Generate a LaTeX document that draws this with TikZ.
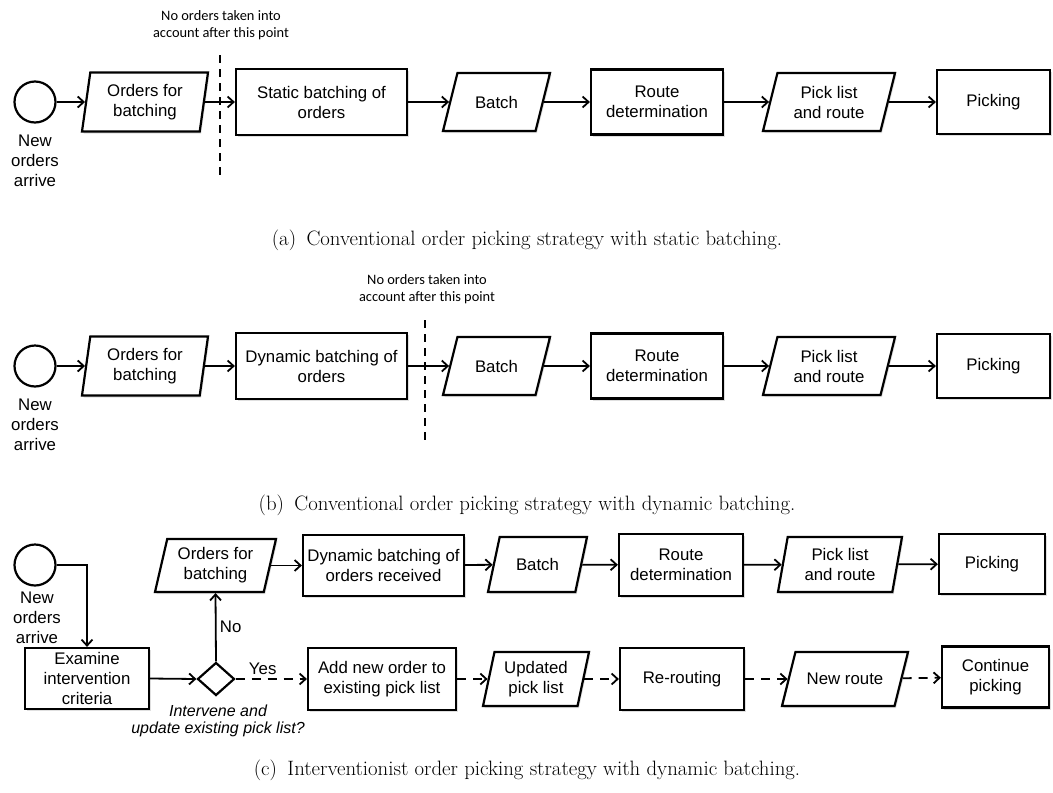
\documentclass[tikz,border=0pt]{standalone}
\usepackage{fontspec}
\newfontfamily\flowfont{Liberation Sans}
\newfontfamily\notefont{Carlito}
\usetikzlibrary{shapes.geometric,arrows.meta,shadows}

\tikzset{
    base/.style={draw, line width=2.2pt, fill=white, align=center,
        font=\flowfont\fontsize{16.8}{20}\selectfont, inner sep=2pt,
        drop shadow={shadow xshift=1.5pt, shadow yshift=-2pt, opacity=.25}},
    process/.style={base, rectangle},
    % parallelogram: #1 is half its height, the text comes as a centred label
    data/.style={base, trapezium, trapezium left angle=76,
        trapezium right angle=104, trapezium stretches body,
        inner xsep=0pt, inner ysep=#1},
    lean/.style={trapezium left angle=#1, trapezium right angle={180-#1}},
    start/.style={draw, circle, line width=2.2pt, minimum size=41pt, inner sep=0pt},
    decision/.style={draw, diamond, line width=2.2pt, fill=white,
        minimum width=37pt, minimum height=33pt, inner sep=0pt},
    plain/.style={align=center, font=\flowfont\fontsize{16.8}{20}\selectfont},
    note/.style={align=center, font=\notefont\fontsize{14.4}{17}\selectfont},
    caption/.style={font=\fontsize{20.8}{24}\selectfont},
    flow/.style={line width=1.8pt, -{Straight Barb[length=6pt,width=11pt]}},
    option/.style={flow, dash pattern=on 9pt off 7pt},
    cut/.style={line width=2pt, dash pattern=on 8pt off 6pt}
}

\begin{document}
\begin{tikzpicture}[x=1pt, y=-1pt]
    \useasboundingbox (0,0) rectangle (1053,793);

    % (a) static batching
    \node [start] (start1) at (35,102) {};
    \node [plain] (arr1) at (35,161) {New\\orders\\arrive};
    \node [data=29.5, lean=82, minimum width=126pt,
        label={[plain]center:{Orders for\\batching}}] (ord1) at (145,102) {};
    \node [process, minimum width=171pt, minimum height=66pt] (stat1) at (321.5,102) {Static batching of\\orders};
    \node [data=29, minimum width=107pt, label={[plain]center:Batch}] (bat1) at (496.5,102) {};
    \node [process, minimum width=132pt, minimum height=65pt] (route1) at (657,102) {Route\\determination};
    \node [data=29, minimum width=132pt,
        label={[plain]center:{Pick list\\and route}}] (pick1) at (829,102) {};
    \node [process, minimum width=113pt, minimum height=64pt] (picking1) at (993.5,102) {Picking};
    \node [note] (note1) at (221,25) {No orders taken into\\account after this point};
    \coordinate (cut1a) at (220,55);
    \coordinate (cut1b) at (220,180);
    \draw [cut] (cut1a) -- (cut1b);

    \draw [flow] (start1) -- (ord1);
    \draw [flow] (ord1) -- (stat1);
    \draw [flow] (stat1) -- (bat1);
    \draw [flow] (bat1) -- (route1);
    \draw [flow] (route1) -- (pick1);
    \draw [flow] (pick1) -- (picking1);
    \node [caption] (cap1) at (527,240) {(a)\hspace{0.5em}Conventional order picking strategy with static batching.};

    % (b) dynamic batching
    \node [start] (start2) at (35,366) {};
    \node [plain] (arr2) at (35,425) {New\\orders\\arrive};
    \node [data=29.5, lean=82, minimum width=126pt,
        label={[plain]center:{Orders for\\batching}}] (ord2) at (145,366) {};
    \node [process, minimum width=171pt, minimum height=66pt] (dyn2) at (321.5,366) {Dynamic batching of\\orders};
    \node [data=29, minimum width=107pt, label={[plain]center:Batch}] (bat2) at (496.5,366) {};
    \node [process, minimum width=132pt, minimum height=65pt] (route2) at (657,366) {Route\\determination};
    \node [data=29, minimum width=132pt,
        label={[plain]center:{Pick list\\and route}}] (pick2) at (829,366) {};
    \node [process, minimum width=113pt, minimum height=64pt] (picking2) at (993.5,366) {Picking};
    \node [note] (note2) at (427,289) {No orders taken into\\account after this point};
    \coordinate (cut2a) at (425,320);
    \coordinate (cut2b) at (425,444);
    \draw [cut] (cut2a) -- (cut2b);

    \draw [flow] (start2) -- (ord2);
    \draw [flow] (ord2) -- (dyn2);
    \draw [flow] (dyn2) -- (bat2);
    \draw [flow] (bat2) -- (route2);
    \draw [flow] (route2) -- (pick2);
    \draw [flow] (pick2) -- (picking2);
    \node [caption] (cap2) at (527,505) {(b)\hspace{0.5em}Conventional order picking strategy with dynamic batching.};

    % (c) interventionist
    \node [start] (start3) at (35,565) {};
    \node [plain] (arr3) at (37,618) {New\\orders\\arrive};
    \node [process, minimum width=124pt, minimum height=61pt] (exam) at (87,678.5) {Examine\\intervention\\criteria};
    \node [decision] (dec) at (216,679) {};
    \node [align=center, font=\flowfont\itshape\fontsize{16}{17}\selectfont] (quest) at (218,721) {Intervene and\\update existing pick list?};

    \node [data=26.5, lean=77, minimum width=121pt,
        label={[plain]center:{Orders for\\batching}}] (ord3) at (215.5,565.5) {};
    \node [process, minimum width=161pt, minimum height=61pt] (dyn3) at (383.5,565.5) {Dynamic batching of\\orders received};
    \node [data=27.5, lean=78, minimum width=99pt, label={[plain]center:Batch}] (bat3) at (537.5,564.5) {};
    \node [process, minimum width=124pt, minimum height=62pt] (route3) at (681,565) {Route\\determination};
    \node [data=27.5, lean=80, minimum width=124pt,
        label={[plain]center:{Pick list\\and route}}] (pick3) at (840,564.5) {};
    \node [process, minimum width=106pt, minimum height=60pt] (picking3) at (992,564) {Picking};

    \node [process, minimum width=148pt, minimum height=62pt] (add3) at (382,679) {Add new order to\\existing pick list};
    \node [data=27, lean=78, minimum width=106pt,
        label={[plain]center:{Updated\\pick list}}] (upd3) at (536,679) {};
    \node [process, minimum width=124pt, minimum height=62pt] (rer3) at (682,679) {Re-routing};
    \node [data=27, minimum width=126pt, label={[plain]center:New route}] (new3) at (845,679) {};
    \node [process, minimum width=107pt, minimum height=61pt] (cont3) at (995.5,677) {Continue\\picking};

    \draw [flow] (start3.east) -| (exam.north);
    \draw [flow] (exam.east) -- (dec.west);
    \draw [flow] (dec.north) -- node [plain, right] {No} (ord3.south);
    \draw [option] (dec.east) -- node [plain, above, pos=0.38] {Yes} (add3.west);
    \draw [flow] (ord3) -- (dyn3);
    \draw [flow] (dyn3) -- (bat3);
    \draw [flow] (bat3) -- (route3);
    \draw [flow] (route3) -- (pick3);
    \draw [flow] (pick3) -- (picking3);
    \draw [option] (add3) -- (upd3);
    \draw [option] (upd3) -- (rer3);
    \draw [option] (rer3) -- (new3);
    \draw [option] (new3) -- (cont3);
    \node [caption] (cap3) at (527,770) {(c)\hspace{0.5em}Interventionist order picking strategy with dynamic batching.};
\end{tikzpicture}
\end{document}
